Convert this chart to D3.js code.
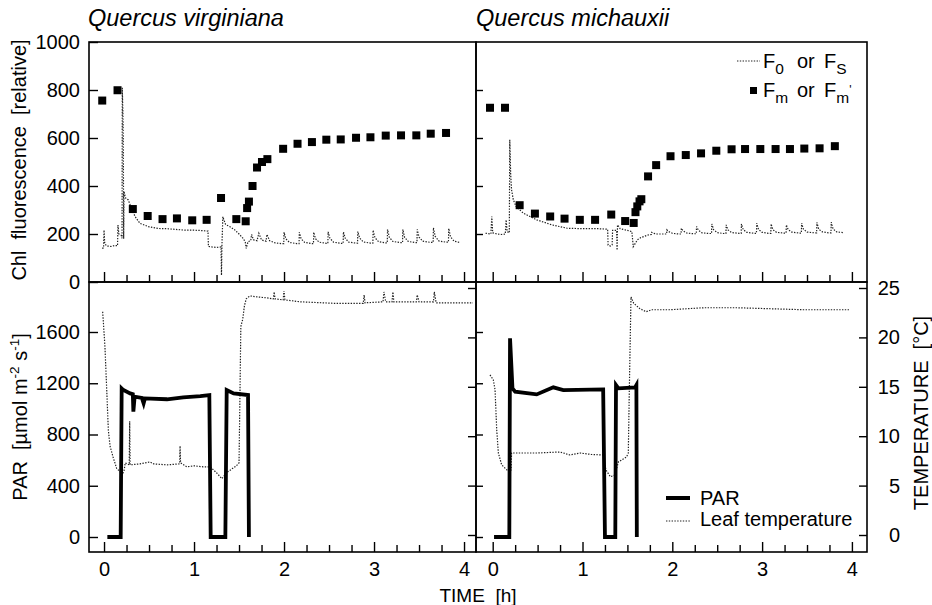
<!DOCTYPE html>
<html><head><meta charset="utf-8">
<script src="https://cdn.jsdelivr.net/npm/d3@7"></script>
<style>
body{margin:0;background:#fff}
svg{display:block}
text{font-family:Arial,"Liberation Sans",sans-serif;fill:#000}
</style>
</head><body>
<svg id="c" width="932" height="605"></svg>
<script>
// ---------------- DATA ----------------
const panelTitles = ["Quercus virginiana", "Quercus michauxii"];
const timeTicks = [0, 1, 2, 3, 4];
const timeMinorTicks = [0.25,0.5,0.75,1.25,1.5,1.75,2.25,2.5,2.75,3.25,3.5,3.75];
const fluorTicks = [0, 200, 400, 600, 800, 1000];
const parTicks = [0, 400, 800, 1200, 1600];
const tempTicks = [0, 5, 10, 15, 20, 25];

// Quercus virginiana : Fm / Fm' (time h, relative fluorescence)
const qvFm = [[-0.02,756],[0.15,799],[0.32,304],[0.485,275],[0.65,262],[0.81,265],[0.98,257],[1.14,259],
  [1.30,350],[1.47,262],[1.574,253],[1.59,308],[1.61,335],[1.65,400],[1.70,477],[1.755,500],[1.815,512],
  [1.99,555],[2.15,576],[2.31,583],[2.47,593],[2.63,594],[2.80,601],[2.96,603],[3.13,610],[3.30,611],
  [3.47,611],[3.63,618],[3.80,621]];
// Quercus michauxii : Fm / Fm'
const qmFm = [[-0.03,726],[0.137,726],[0.30,320],[0.47,285],[0.64,273],[0.80,264],[0.97,259],[1.14,259],
  [1.32,281],[1.475,254],[1.57,246],[1.59,291],[1.61,315],[1.635,336],[1.655,345],[1.73,440],[1.82,487],
  [1.98,524],[2.15,529],[2.32,536],[2.49,547],[2.66,553],[2.81,554],[2.98,554],[3.15,554],[3.31,554],
  [3.47,556],[3.64,557],[3.81,566]];

// Quercus virginiana : F0 / Fs trace
const qvF0 = [[-0.02,140],[-0.005,142],[0.0,216],[0.008,160],[0.03,150],[0.08,148],[0.12,152],[0.15,151],
  [0.155,237],[0.165,200],[0.19,195],[0.2,182],[0.203,809],[0.21,700],[0.213,621],[0.216,420],[0.218,180],
  [0.222,377],[0.24,350],[0.27,342],[0.31,300],[0.35,270],[0.4,244],[0.5,230],[0.6,223],[0.7,222],[0.8,219],
  [0.9,216],[1.0,216],[1.1,214],[1.155,212],[1.16,148],[1.2,146],[1.25,144],[1.3,146],[1.305,28],[1.31,150],
  [1.32,272],[1.35,240],[1.4,230],[1.45,218],[1.5,200],[1.55,180],[1.57,165],[1.58,140],[1.6,168],[1.63,172],
  [1.64,198],[1.66,176],[1.7,172],[1.72,203],[1.75,175],[1.8,170],[1.81,198],[1.84,172],[1.9,163],[1.97,160],
  [1.997,160],[2.0,207],[2.02,180],[2.06,165],[2.14,160],
  [2.167,160],[2.17,207],[2.19,180],[2.23,165],[2.31,160],
  [2.327,160],[2.33,207],[2.35,180],[2.39,166],[2.47,161],
  [2.487,161],[2.49,209],[2.51,182],[2.55,166],[2.63,161],
  [2.657,161],[2.66,209],[2.68,182],[2.72,166],[2.80,162],
  [2.817,162],[2.82,210],[2.84,183],[2.88,167],[2.96,162],
  [2.987,162],[2.99,216],[3.01,185],[3.05,168],[3.13,163],
  [3.147,163],[3.15,219],[3.17,186],[3.21,169],[3.29,164],
  [3.317,164],[3.32,219],[3.34,186],[3.38,169],[3.46,164],
  [3.477,164],[3.48,219],[3.50,187],[3.54,170],[3.63,165],
  [3.657,165],[3.66,226],[3.68,190],[3.72,171],[3.80,166],
  [3.827,166],[3.83,223],[3.85,188],[3.89,170],[3.95,165]];
// Quercus michauxii : F0 / Fs trace
const qmF0 = [[-0.08,203],[-0.02,200],[-0.01,273],[0.0,205],[0.05,200],[0.1,198],[0.14,200],[0.15,259],
  [0.16,210],[0.185,205],[0.19,593],[0.2,450],[0.21,384],[0.23,342],[0.26,315],[0.34,287],[0.49,259],
  [0.66,238],[0.83,224],[1.0,222],[1.18,222],[1.28,220],[1.285,154],[1.31,150],[1.33,155],[1.335,215],
  [1.38,215],[1.385,133],[1.39,238],[1.42,222],[1.5,215],[1.55,210],[1.565,147],[1.61,175],[1.65,185],
  [1.73,196],
  [1.767,198],[1.77,207],[1.79,203],[1.83,200],[1.91,200],
  [1.937,200],[1.94,217],[1.96,210],[2.0,203],[2.07,200],
  [2.097,200],[2.10,224],[2.12,213],[2.16,204],[2.24,201],
  [2.267,201],[2.27,231],[2.29,216],[2.33,205],[2.41,202],
  [2.437,202],[2.44,242],[2.46,218],[2.50,206],[2.57,202],
  [2.597,202],[2.60,238],[2.62,217],[2.66,206],[2.74,203],
  [2.767,203],[2.77,242],[2.79,218],[2.83,207],[2.91,203],
  [2.937,203],[2.94,245],[2.96,219],[3.0,207],[3.07,203],
  [3.097,203],[3.10,242],[3.12,218],[3.16,207],[3.24,204],
  [3.267,204],[3.27,238],[3.29,218],[3.33,208],[3.41,204],
  [3.437,204],[3.44,245],[3.46,220],[3.50,208],[3.58,205],
  [3.607,205],[3.61,248],[3.63,220],[3.67,209],[3.74,205],
  [3.767,205],[3.77,249],[3.79,221],[3.83,209],[3.90,206]];

// PAR (µmol m-2 s-1)
const qvPAR = [[0.037,0],[0.185,0],[0.196,1160],[0.215,1147],[0.29,1121],[0.32,1115],[0.326,978],[0.34,1095],
  [0.42,1085],[0.44,1043],[0.455,1082],[0.7,1075],[0.88,1090],[1.07,1100],[1.17,1108],[1.185,0],[1.348,0],
  [1.363,1147],[1.44,1121],[1.60,1108],[1.61,0]];
const qmPAR = [[0.015,0],[0.185,0],[0.193,1551],[0.22,1160],[0.25,1134],[0.49,1113],[0.675,1168],[0.786,1147],
  [1.23,1152],[1.25,0],[1.365,0],[1.373,1186],[1.40,1160],[1.585,1168],[1.60,1186],[1.605,0]];

// Leaf temperature (°C)
const qvTemp = [[-0.015,22.6],[0.01,19.1],[0.03,14.7],[0.048,10.6],[0.067,9.0],[0.1,7.9],[0.14,6.75],[0.18,6.4],
  [0.215,6.3],[0.225,6.6],[0.235,7.3],[0.28,7.1],[0.285,11.5],[0.29,7.1],[0.4,7.2],[0.51,7.4],[0.55,7.2],
  [0.7,7.1],[0.84,7.2],[0.845,9.0],[0.85,7.3],[0.92,6.9],[1.0,7.0],[1.1,6.9],[1.18,6.9],[1.25,6.3],[1.31,5.7],
  [1.36,6.3],[1.47,7.0],[1.50,7.3],[1.51,14.0],[1.52,21.1],[1.54,21.8],[1.56,23.2],[1.58,23.9],[1.62,24.2],
  [1.7,24.1],[1.81,24.0],[1.88,23.9],[1.89,24.6],[1.9,23.9],[1.99,23.8],[2.0,24.7],[2.01,23.8],[2.18,23.6],
  [2.55,23.45],[2.88,23.45],[2.89,24.3],[2.9,23.5],[3.1,23.6],[3.11,24.6],[3.13,23.6],[3.2,23.6],[3.21,24.6],
  [3.22,23.6],[3.47,23.6],[3.48,24.3],[3.5,23.6],[3.66,23.6],[3.67,24.6],[3.69,23.5],[3.85,23.5],[4.1,23.5]];
const qmTemp = [[-0.03,16.2],[0.007,15.7],[0.026,14.7],[0.045,10.6],[0.063,8.3],[0.1,7.1],[0.156,6.6],[0.193,6.4],
  [0.205,6.6],[0.21,8.3],[0.267,8.3],[0.49,8.3],[0.75,8.4],[0.86,8.1],[0.97,8.3],[1.1,8.15],[1.23,8.1],[1.26,6.6],
  [1.31,5.9],[1.36,6.07],[1.40,7.4],[1.49,7.9],[1.51,8.3],[1.52,14.0],[1.53,19.1],[1.54,24.1],[1.57,23.45],
  [1.64,22.9],[1.71,22.6],[1.77,22.8],[1.97,22.8],[2.35,23.0],[2.72,23.0],[3.46,22.8],[3.98,22.8]];

// ---------------- LAYOUT / SCALES ----------------
const svg = d3.select("#c");
const X0 = 89, XM = 476, X1 = 867, Y0 = 42, YM = 282, Y1 = 552;
const xL = d3.scaleLinear().domain([-0.167, 4.133]).range([X0, XM]);
const xR = d3.scaleLinear().domain([-0.186, 4.168]).range([XM, X1]);
const yF = d3.scaleLinear().domain([0, 1000]).range([YM, Y0]);
const yP = d3.scaleLinear().domain([0, 1600]).range([537, 332]);
const yT = d3.scaleLinear().domain([0, 25]).range([535, 288]);

const FS = 20;
const fmt = d3.format("d");
function clean(g){ g.select(".domain").remove(); g.selectAll("line").attr("stroke","#000").attr("stroke-width",1.4);
  g.selectAll("text").attr("font-size",FS).attr("font-family","Arial, 'Liberation Sans', sans-serif").attr("fill","#000"); }

// x axes (ticks inward)
[xL, xR].forEach((x)=>{
  [YM, Y1].forEach((yy)=>{
    svg.append("g").attr("transform",`translate(0,${yy})`)
      .call(d3.axisBottom(x).tickValues(timeMinorTicks).tickSize(-7).tickFormat("")).call(clean);
    svg.append("g").attr("transform",`translate(0,${yy})`)
      .call(d3.axisBottom(x).tickValues(timeTicks).tickSize(-10).tickPadding(10)
        .tickFormat(yy===Y1 ? fmt : "")).call(clean);
  });
});

// left axes
svg.append("g").attr("transform",`translate(${X0},0)`)
  .call(d3.axisLeft(yF).tickValues(fluorTicks).tickSize(-9).tickPadding(9).tickFormat(fmt)).call(clean);
svg.append("g").attr("transform",`translate(${X0},0)`)
  .call(d3.axisLeft(yP).tickValues(parTicks).tickSize(-9).tickPadding(9).tickFormat(fmt)).call(clean);
// shared middle ticks
svg.append("g").attr("transform",`translate(${XM},0)`)
  .call(d3.axisRight(yF).tickValues([200,400,600,800]).tickSize(7).tickFormat("")).call(clean);
svg.append("g").attr("transform",`translate(${XM},0)`)
  .call(d3.axisLeft(yT).tickValues(tempTicks).tickSize(8).tickFormat("")).call(clean);
svg.append("g").attr("transform",`translate(${XM},0)`)
  .call(d3.axisRight(yP).tickValues(parTicks).tickSize(7).tickFormat("")).call(clean);
// right temperature axis
svg.append("g").attr("transform",`translate(${X1},0)`)
  .call(d3.axisRight(yT).tickValues(tempTicks).tickSize(-8).tickPadding(10).tickFormat(fmt)).call(clean)
  .call(g=>g.selectAll("text").attr("text-anchor","end").attr("x",33));

// frames
[[X0,Y0,XM,YM],[XM,Y0,X1,YM],[X0,YM,XM,Y1],[XM,YM,X1,Y1]].forEach(([a,b,c,d])=>{
  svg.append("rect").attr("x",a).attr("y",b).attr("width",c-a).attr("height",d-b)
    .attr("fill","none").attr("stroke","#000").attr("stroke-width",1.6);
});

// ---------------- MARKS ----------------
function drawPanel(x, f0, fm, par, temp){
  const lf = d3.line().x(d=>x(d[0])).y(d=>yF(d[1]));
  svg.append("path").attr("d",lf(f0)).attr("fill","none").attr("stroke","#222")
    .attr("stroke-width",1.2).attr("stroke-dasharray","1.4,1.4");
  svg.append("g").selectAll("rect").data(fm).join("rect")
    .attr("x",d=>x(d[0])-4).attr("y",d=>yF(d[1])-4).attr("width",8).attr("height",8).attr("fill","#000");
  const lt = d3.line().x(d=>x(d[0])).y(d=>yT(d[1]));
  svg.append("path").attr("d",lt(temp)).attr("fill","none").attr("stroke","#222")
    .attr("stroke-width",1.2).attr("stroke-dasharray","1.4,1.4");
  const lp = d3.line().x(d=>x(d[0])).y(d=>yP(d[1]));
  svg.append("path").attr("d",lp(par)).attr("fill","none").attr("stroke","#000")
    .attr("stroke-width",3.8).attr("stroke-linejoin","miter");
}
drawPanel(xL, qvF0, qvFm, qvPAR, qvTemp);
drawPanel(xR, qmF0, qmFm, qmPAR, qmTemp);

// ---------------- TEXT ----------------
svg.append("text").attr("x",88).attr("y",26).attr("font-size",23.5).attr("font-style","italic").text(panelTitles[0]);
svg.append("text").attr("x",476).attr("y",26).attr("font-size",23.5).attr("font-style","italic").text(panelTitles[1]);

svg.append("text").attr("transform","translate(26,160) rotate(-90)").attr("text-anchor","middle")
  .attr("font-size",20).attr("xml:space","preserve").text("Chl  fluorescence  [relative]");
const parLab = svg.append("text").attr("transform","translate(27,417) rotate(-90)").attr("text-anchor","middle")
  .attr("font-size",20).attr("xml:space","preserve");
parLab.append("tspan").text("PAR  [µmol m");
parLab.append("tspan").attr("dy",-8).attr("font-size",13.5).text("-2");
parLab.append("tspan").attr("dy",8).text(" s");
parLab.append("tspan").attr("dy",-8).attr("font-size",13.5).text("-1");
parLab.append("tspan").attr("dy",8).text("]");
svg.append("text").attr("transform","translate(928,413) rotate(-90)").attr("text-anchor","middle")
  .attr("font-size",20).attr("xml:space","preserve").text("TEMPERATURE  [°C]");
svg.append("text").attr("x",478).attr("y",602).attr("text-anchor","middle").attr("font-size",19)
  .attr("xml:space","preserve").text("TIME  [h]");

// legend top
svg.append("line").attr("x1",737).attr("x2",760).attr("y1",61).attr("y2",61).attr("stroke","#222")
  .attr("stroke-width",1.2).attr("stroke-dasharray","1.4,1.4");
function fTerm(x, y, sub, prime){
  const t = svg.append("text").attr("x",x).attr("y",y).attr("font-size",20);
  t.append("tspan").text("F");
  t.append("tspan").attr("dy",6).attr("font-size",15.5).text(sub);
  if(prime){ t.append("tspan").attr("dy",-9).attr("font-size",12).text("'"); }
}
fTerm(763,68,"0",false);
svg.append("text").attr("x",797).attr("y",68).attr("font-size",20).text("or");
fTerm(824,68,"S",false);
svg.append("rect").attr("x",750).attr("y",87).attr("width",7).attr("height",7).attr("fill","#000");
fTerm(763,97,"m",false);
svg.append("text").attr("x",797).attr("y",97).attr("font-size",20).text("or");
fTerm(824,97,"m",true);

// legend bottom
svg.append("line").attr("x1",666).attr("x2",690).attr("y1",498).attr("y2",498).attr("stroke","#000").attr("stroke-width",4);
svg.append("text").attr("x",700).attr("y",505).attr("font-size",20).text("PAR");
svg.append("line").attr("x1",666).attr("x2",690).attr("y1",521).attr("y2",521).attr("stroke","#222")
  .attr("stroke-width",1.2).attr("stroke-dasharray","1.4,1.4");
svg.append("text").attr("x",700).attr("y",526).attr("font-size",20).text("Leaf temperature");
</script>
</body></html>
